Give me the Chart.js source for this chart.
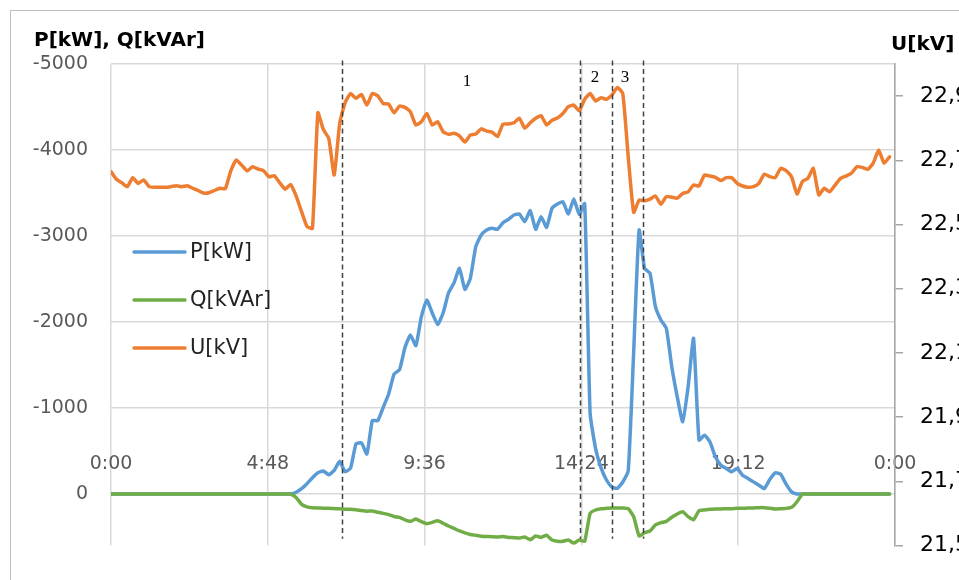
<!DOCTYPE html>
<html>
<head>
<meta charset="utf-8">
<script src="https://cdn.jsdelivr.net/npm/chart.js@4.4.1/dist/chart.umd.min.js"></script>
<style>
  html, body { margin:0; padding:0; background:#fff; }
  #wrap { width:959px; height:580px; overflow:hidden; }
</style>
</head>
<body>
<div id="wrap"><canvas id="c" width="959" height="580"></canvas></div>
<script>
// 10-minute samples, 0:00 .. 23:50
const STEP_MIN = 10;

const P_KW = [
  0,0,0,0,0,0,0,0,0,0, 0,0,0,0,0,0,0,0,0,0, 0,0,0,0,0,0,0,0,0,0, 0,0,0,0,
  -20,-62,-120,-190,-248,-267,-225,-275,-380,-260,-300,-583,-595,-465,-853,-853,
  -1008,-1163,-1395,-1446,-1705,-1849,-1725,-2060,-2255,-2105,-1970,-2105,-2340,-2455,-2624,-2380,
  -2508,-2876,-3012,-3070,-3089,-3078,-3155,-3194,-3244,-3256,-3167,-3295,-3078,-3225,-3101,-3322,
  -3372,-3399,-3256,-3430,-3250,-3375,-938,-531,-307,-163,-79,-66,-140,-271,-1650,-3070,
  -2624,-2566,-2178,-2023,-1926,-1480,-1132,-841,-1248,-1810,-626,-684,-607,-432,-335,-297,
  -258,-297,-219,-180,-141,-103,-63,-168,-246,-230,-114,-25,
  0,0,0,0,0,0,0,0,0,0,0,0,0,0,0,0,0,0
];

const Q_KVAR = [
  0,0,0,0,0,0,0,0,0,0, 0,0,0,0,0,0,0,0,0,0, 0,0,0,0,0,0,0,0,0,0, 0,0,0,0,
  40,120,150,160,163,165,167,170,172,178,176,182,192,200,198,212,
  225,240,262,272,300,318,292,322,345,330,312,340,372,400,430,452,
  470,480,490,494,497,500,495,505,508,512,500,531,488,505,480,535,
  550,550,535,570,535,550,225,186,171,167,163,163,163,171,264,488,
  450,430,360,333,318,271,233,205,264,300,194,186,178,174,174,171,
  171,167,167,163,163,159,159,165,174,171,167,155,90,
  0,0,0,0,0,0,0,0,0,0,0,0,0,0,0,0,0
];

const U_KV = [
  22.665,22.641,22.630,22.618,22.646,22.628,22.639,22.618,22.616,22.616,
  22.616,22.618,22.621,22.618,22.621,22.613,22.606,22.598,22.599,22.606,
  22.613,22.612,22.667,22.701,22.685,22.667,22.680,22.673,22.668,22.649,
  22.652,22.630,22.610,22.625,22.589,22.540,22.494,22.488,22.848,22.796,
  22.768,22.654,22.815,22.880,22.908,22.893,22.905,22.872,22.908,22.901,
  22.877,22.875,22.848,22.869,22.865,22.851,22.810,22.820,22.846,22.810,
  22.820,22.789,22.781,22.784,22.776,22.757,22.779,22.782,22.798,22.791,
  22.788,22.774,22.813,22.813,22.817,22.831,22.800,22.817,22.831,22.839,
  22.810,22.825,22.832,22.846,22.867,22.872,22.854,22.890,22.908,22.885,
  22.895,22.890,22.903,22.927,22.908,22.711,22.538,22.576,22.574,22.579,
  22.589,22.563,22.587,22.585,22.582,22.597,22.602,22.623,22.620,22.654,
  22.651,22.647,22.637,22.646,22.646,22.628,22.620,22.616,22.618,22.628,
  22.657,22.649,22.646,22.675,22.668,22.649,22.595,22.634,22.644,22.675,
  22.592,22.613,22.602,22.623,22.644,22.651,22.660,22.680,22.678,22.672,
  22.691,22.732,22.691,22.711
];

const X_TICKS = [0, 288, 576, 864, 1152, 1440];
const X_TICK_LABELS = ['0:00', '4:48', '9:36', '14:24', '19:12', '0:00'];
const PQ_TICKS = [-5000, -4000, -3000, -2000, -1000, 0];
const U_TICKS = [21.5, 21.7, 21.9, 22.1, 22.3, 22.5, 22.7, 22.9];

// phase boundaries (minutes) and phase numbers
const PHASE_LINES = [424, 862, 921, 977];
const PHASE_LABELS = ['1', '2', '3'];
const PHASE_LABEL_X = [654, 889, 944];
const PHASE_LABEL_Y = [-4791, -4837, -4837];

const SERIES = [
  { label: 'P[kW]',   data: P_KW,   color: '#5B9BD5', axis: 'y',  order: 3 },
  { label: 'Q[kVAr]', data: Q_KVAR, color: '#70AD47', axis: 'y',  order: 2 },
  { label: 'U[kV]',   data: U_KV,   color: '#ED7D31', axis: 'y1', order: 1 }
];

const FONT = 'DejaVu Sans';

const decor = {
  id: 'decor',
  beforeDraw(chart){
    const ctx = chart.ctx;
    ctx.save();
    ctx.fillStyle = '#fff';
    ctx.fillRect(0, 0, chart.width, chart.height);
    ctx.strokeStyle = '#c0c0c0';
    ctx.lineWidth = 1;
    ctx.strokeRect(10.5, 10.5, 2000, 2000);
    ctx.restore();
  },
  afterDatasetsDraw(chart){
    const ctx = chart.ctx, xs = chart.scales.x, ys = chart.scales.y;
    ctx.save();
    // dashed phase boundaries
    ctx.strokeStyle = '#404040';
    ctx.lineWidth = 1.5;
    ctx.setLineDash([5, 3.5]);
    PHASE_LINES.forEach(t => {
      const px = Math.round(xs.getPixelForValue(t)) + 0.5;
      ctx.beginPath();
      ctx.moveTo(px, ys.getPixelForValue(-5040));
      ctx.lineTo(px, ys.getPixelForValue(520));
      ctx.stroke();
    });
    ctx.setLineDash([]);
    ctx.fillStyle = '#000';
    ctx.font = '17px "Liberation Serif"';
    ctx.textAlign = 'center';
    ctx.textBaseline = 'middle';
    PHASE_LABELS.forEach((t, i) => {
      ctx.fillText(t, xs.getPixelForValue(PHASE_LABEL_X[i]), ys.getPixelForValue(PHASE_LABEL_Y[i]));
    });

    // axis titles
    ctx.textAlign = 'left';
    ctx.textBaseline = 'alphabetic';
    ctx.font = 'bold 20px "' + FONT + '"';
    ctx.fillText('P[kW], Q[kVAr]', 34, 46);
    ctx.fillText('U[kV]', 891, 50);

    // legend inside the plot
    ctx.font = '21px "' + FONT + '"';
    ctx.textBaseline = 'middle';
    ctx.lineCap = 'round';
    SERIES.forEach((s, i) => {
      const y = 252 + i * 48;
      ctx.strokeStyle = s.color;
      ctx.lineWidth = 3.5;
      ctx.beginPath();
      ctx.moveTo(134, y);
      ctx.lineTo(185, y);
      ctx.stroke();
      ctx.fillStyle = '#222';
      ctx.fillText(s.label, 190, y + 1);
    });
    ctx.restore();
  }
};

function buildChart(){
  const datasets = SERIES.map(s => ({
    label: s.label,
    data: s.data.map((v, i) => ({ x: i * STEP_MIN, y: v })),
    yAxisID: s.axis,
    borderColor: s.color,
    backgroundColor: s.color,
    borderWidth: 3.5,
    pointRadius: 0,
    tension: 0.15,
    borderJoinStyle: 'round',
    borderCapStyle: 'round',
    order: s.order
  }));

  new Chart(document.getElementById('c'), {
    type: 'line',
    data: { datasets },
    plugins: [decor],
    options: {
      responsive: false,
      animation: false,
      devicePixelRatio: 1,
      layout: { padding: { top: 64, bottom: 34, left: 0, right: 0 } },
      plugins: { legend: { display: false }, tooltip: { enabled: false } },
      scales: {
        x: {
          type: 'linear',
          min: 0, max: 1440,
          position: { y: -480 },
          afterBuildTicks: sc => { sc.ticks = X_TICKS.map(v => ({ value: v })); },
          grid: { color: '#d9d9d9', lineWidth: 1.5, drawTicks: false },
          border: { display: false },
          ticks: {
            autoSkip: false, maxRotation: 0, padding: 0,
            color: '#595959', font: { family: FONT, size: 19 },
            callback: (v, i) => X_TICK_LABELS[i]
          }
        },
        y: {
          type: 'linear',
          position: 'left',
          reverse: true,
          min: -5000, max: 600,
          afterBuildTicks: sc => { sc.ticks = PQ_TICKS.map(v => ({ value: v })); },
          afterFit: sc => { sc.width = 111; },
          grid: { color: '#d9d9d9', lineWidth: 1.5, drawTicks: false },
          border: { display: false },
          ticks: {
            padding: 23, color: '#595959', font: { family: FONT, size: 19 },
            callback: v => String(v)
          }
        },
        y1: {
          type: 'linear',
          position: 'right',
          min: 21.5, max: 23.0,
          afterBuildTicks: sc => { sc.ticks = U_TICKS.map(v => ({ value: v })); },
          afterFit: sc => { sc.width = 64; },
          grid: { drawOnChartArea: false, drawTicks: true, tickLength: 8, color: '#a6a6a6', lineWidth: 1.5 },
          border: { display: true, color: '#a6a6a6', width: 1.5 },
          ticks: {
            padding: 17, color: '#000', font: { family: FONT, size: 22 },
            callback: v => v.toFixed(1).replace('.', ',')
          }
        }
      }
    }
  });
}

document.addEventListener('DOMContentLoaded', buildChart);
</script>
</body>
</html>
